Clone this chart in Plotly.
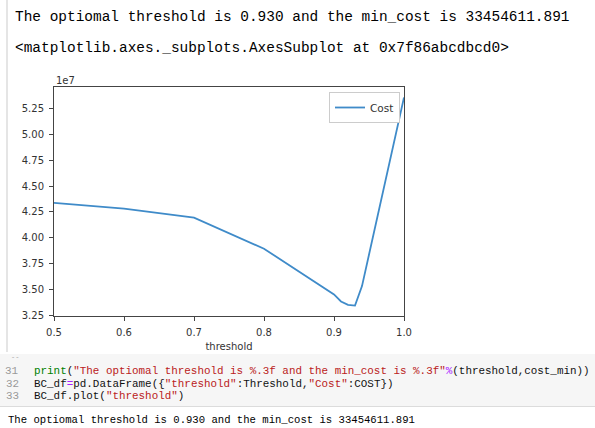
import plotly.graph_objects as go

# ---- data ----
threshold = [0.5, 0.6, 0.7, 0.8, 0.9, 0.91, 0.92, 0.93, 0.94, 1.0]
cost = [43370000, 42820000, 41950000, 38950000, 34530000, 33850000,
        33520000, 33454611.891, 35340000, 53570000]
series_name = "Cost"
x_ticks = [0.5, 0.6, 0.7, 0.8, 0.9, 1.0]
y_scale = 1e7

W, H = 595, 428
L, R, T, B = 54, 404, 87, 316   # plot-area pixel box

def px(x):
    return (x - L) / (R - L)

def py(y):
    return (B - y) / (B - T)

ys = [c / y_scale for c in cost]
lo, hi = min(ys), max(ys)
pad = 0.05 * (hi - lo)

fig = go.Figure()
fig.add_trace(go.Scatter(x=threshold, y=ys, mode="lines", name=series_name,
                         line=dict(color="#3f8bc9", width=1.8)))

mono = "Liberation Mono, DejaVu Sans Mono, monospace"
sans = "DejaVu Sans, sans-serif"

ann = []
def text(x, y, s, size, color="#111", anchor="left", font=mono):
    ann.append(dict(x=px(x), y=py(y), xref="paper", yref="paper", text=s,
                    showarrow=False, xanchor=anchor, yanchor="middle",
                    font=dict(family=font, size=size, color=color)))

text(13, 17, "The optiomal threshold is 0.930 and the min_cost is 33454611.891", 14.45, "#000")
text(13, 48, "&lt;matplotlib.axes._subplots.AxesSubplot at 0x7f86abcdbcd0&gt;", 14.45, "#000")
text(54, 81, "1e7", 10, "#333", font=sans)

G = "#008000"; S = "#ba2121"; P = "#aa22ff"
def c(col, s):
    return f'<span style="color:{col}">{s}</span>'

code = [
    ("31", c(G, "print") + "(" + c(S, '"The optiomal threshold is %.3f and the min_cost is %.3f"')
     + c(P, "%") + "(threshold,cost_min))", 371),
    ("32", "BC_df" + c(P, "=") + "pd.DataFrame({" + c(S, '"threshold"') + ":Threshold,"
     + c(S, '"Cost"') + ":COST})", 383.5),
    ("33", "BC_df.plot(" + c(S, '"threshold"') + ")", 396),
]
for num, line, y in code:
    text(20.5, y, num, 10.9, "#999", anchor="right")
    text(32, y, line, 10.9, "#111")
text(9, 357, "--", 7, "#aaa")
text(6, 420, "The optiomal threshold is 0.930 and the min_cost is 33454611.891", 10.6, "#000")

shapes = [
    dict(type="rect", xref="paper", yref="paper", x0=px(0), x1=px(W), y0=py(406), y1=py(354),
         fillcolor="#f6f6f6", line=dict(width=0), layer="below"),
    dict(type="line", xref="paper", yref="paper", x0=px(0), x1=px(W), y0=py(406.5), y1=py(406.5),
         line=dict(color="#dcdcdc", width=1)),
    dict(type="line", xref="paper", yref="paper", x0=px(7), x1=px(7), y0=py(0), y1=py(352),
         line=dict(color="#dddddd", width=1.5)),
]

axis_common = dict(showline=True, linecolor="#444", linewidth=1, mirror=True,
                   ticks="outside", ticklen=4, tickcolor="#444", showgrid=False,
                   zeroline=False, ticklabelstandoff=3,
                   tickfont=dict(family=sans, size=10, color="#333"))

fig.update_layout(
    width=W, height=H,
    margin=dict(l=L, r=W - R, t=T, b=H - B, pad=0),
    paper_bgcolor="white", plot_bgcolor="white",
    showlegend=True,
    legend=dict(x=px(400), y=py(92), xanchor="right", yanchor="top",
                bgcolor="white", bordercolor="#cccccc", borderwidth=1,
                font=dict(family=sans, size=10.5, color="#333"),
                itemwidth=30, tracegroupgap=0),
    xaxis=dict(range=[min(threshold), max(threshold)], tickvals=x_ticks,
               tickformat=".1f",
               title=dict(text="threshold", standoff=5,
                          font=dict(family=sans, size=10, color="#333")),
               **axis_common),
    yaxis=dict(range=[lo - pad, hi + pad], dtick=0.25, tick0=0, tickformat=".2f",
               **axis_common),
    annotations=ann, shapes=shapes,
)

fig.write_html("out.html")
